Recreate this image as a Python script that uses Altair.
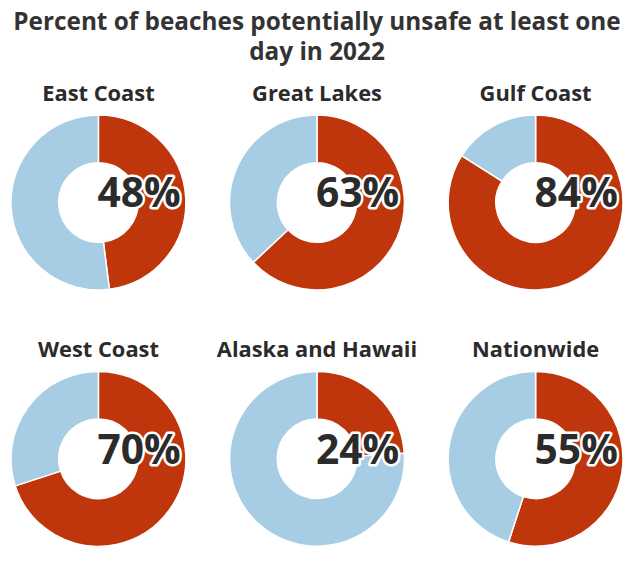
import altair as alt
import pandas as pd

regions = ["East Coast", "Great Lakes", "Gulf Coast", "West Coast", "Alaska and Hawaii", "Nationwide"]
unsafe_pct = [48, 63, 84, 70, 24, 55]

RED = "#bf360c"
BLUE = "#a6cde3"
FONT = "Open Sans"

rows = []
for r, p in zip(regions, unsafe_pct):
    rows.append({"region": r, "part": "unsafe", "value": p, "ord": 0, "label": f"{p}%"})
    rows.append({"region": r, "part": "other", "value": 100 - p, "ord": 1, "label": f"{p}%"})
df = pd.DataFrame(rows)

W = 176
H = 176

arc = alt.Chart().mark_arc(stroke="white", strokeWidth=1.5).encode(
    theta=alt.Theta("value:Q", stack=True),
    radius=alt.value(88),
    radius2=alt.value(40),
    color=alt.Color("part:N", scale=alt.Scale(domain=["unsafe", "other"], range=[RED, BLUE]), legend=None),
    order=alt.Order("ord:Q"),
)

base_text = alt.Chart().transform_filter(alt.datum.ord == 0)
outline = base_text.mark_text(
    align="left", baseline="alphabetic", font=FONT, fontWeight="bold", fontSize=41,
    stroke="white", strokeWidth=5, strokeJoin="round", color="white"
).encode(x=alt.value(W / 2 - 1), y=alt.value(H / 2 + 5), text="label:N")
label = base_text.mark_text(
    align="left", baseline="alphabetic", font=FONT, fontWeight="bold", fontSize=41, color="#2b2b2b"
).encode(x=alt.value(W / 2 - 1), y=alt.value(H / 2 + 5), text="label:N")

chart = alt.layer(arc, outline, label, data=df).properties(width=W, height=H).facet(
    facet=alt.Facet("region:N", sort=regions, title=None,
                    header=alt.Header(labelFontSize=22, labelFont=FONT, labelFontWeight="bold",
                                      labelColor="#2b2b2b", labelPadding=6)),
    columns=3,
    spacing={"row": 82, "column": 44},
    bounds="flush",
).properties(
    title=alt.Title(["Percent of beaches potentially unsafe at least one", "day in 2022"],
                    fontSize=24.5, font=FONT, fontWeight="bold", color="#333333",
                    anchor="middle", lineHeight=30, offset=18),
    padding={"top": 0, "left": 0, "right": 0, "bottom": 0},
).configure_view(stroke=None)

chart.save("out.html", embed_options={"renderer": "svg", "actions": False})
